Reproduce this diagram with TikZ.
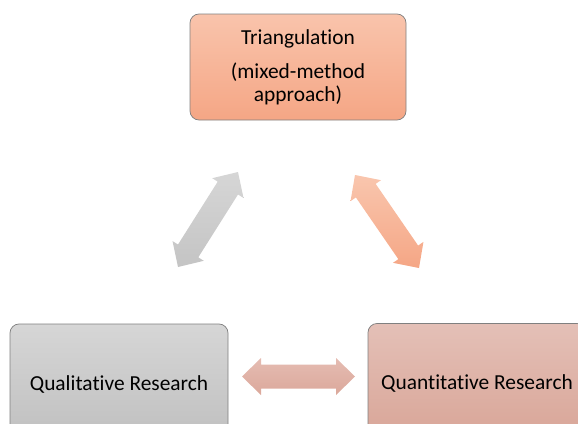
\documentclass[tikz,border=0pt]{standalone}
\usepackage{fontspec}
\setmainfont{Carlito}[Ligatures=NoCommon]
\usetikzlibrary{calc}

\definecolor{edgegray}{RGB}{128,128,128}
\definecolor{triTop}{RGB}{249,196,172}
\definecolor{triBot}{RGB}{245,166,133}
\definecolor{qualTop}{RGB}{214,214,214}
\definecolor{qualBot}{RGB}{191,191,191}
\definecolor{quanTop}{RGB}{228,192,183}
\definecolor{quanBot}{RGB}{216,164,150}
\definecolor{grayArrTop}{RGB}{214,214,214}
\definecolor{grayArrBot}{RGB}{196,196,196}
\definecolor{orArrTop}{RGB}{249,198,174}
\definecolor{orArrBot}{RGB}{245,166,133}
\definecolor{pkArrTop}{RGB}{229,188,178}
\definecolor{pkArrBot}{RGB}{219,168,155}

\tikzset{
  box/.style={draw=edgegray, line width=0.75pt, rounded corners=9pt,
    minimum width=218pt, minimum height=120pt, inner sep=0pt,
    align=center, font=\fontsize{21.4}{23}\selectfont},
}

% double-headed block arrow between two tip coordinates
\newcommand{\blockarrow}[4]{%
  \coordinate (#1-h1) at ($(#1)!19pt!(#2)$);
  \coordinate (#1-h2) at ($(#2)!19pt!(#1)$);
  \shade[top color=#3, bottom color=#4]
    (#1)
    -- ($(#1-h1)!18.5pt!90:(#2)$) -- ($(#1-h1)!12pt!90:(#2)$)
    -- ($(#1-h2)!12pt!-90:(#1)$) -- ($(#1-h2)!18.5pt!-90:(#1)$)
    -- (#2)
    -- ($(#1-h2)!18.5pt!90:(#1)$) -- ($(#1-h2)!12pt!90:(#1)$)
    -- ($(#1-h1)!12pt!-90:(#2)$) -- ($(#1-h1)!18.5pt!-90:(#2)$)
    -- cycle;
}

\begin{document}
\begin{tikzpicture}[x=1pt, y=-1pt]
  \useasboundingbox (0,0) rectangle (578,423);
  \clip (0,0) rectangle (578,423);

  % the three boxes
  \node[box, top color=triTop, bottom color=triBot,
        minimum width=216pt, minimum height=106pt] (tri) at (298,67)
    {Triangulation\\[11pt](mixed-method\\approach)};
  \node[box, top color=qualTop, bottom color=qualBot] (qual) at (119,384)
    {Qualitative Research};
  \node[box, top color=quanTop, bottom color=quanBot] (quan) at (477,383.5)
    {Quantitative Research};

  % arrow tips
  \coordinate (gA) at (178,267);
  \coordinate (gB) at (238,172);
  \coordinate (oA) at (355,175);
  \coordinate (oB) at (419,268);
  \coordinate (pA) at (242,376.5);
  \coordinate (pB) at (355,376.5);

  \blockarrow{gA}{gB}{grayArrTop}{grayArrBot}
  \blockarrow{oA}{oB}{orArrTop}{orArrBot}
  \blockarrow{pA}{pB}{pkArrTop}{pkArrBot}
\end{tikzpicture}
\end{document}
